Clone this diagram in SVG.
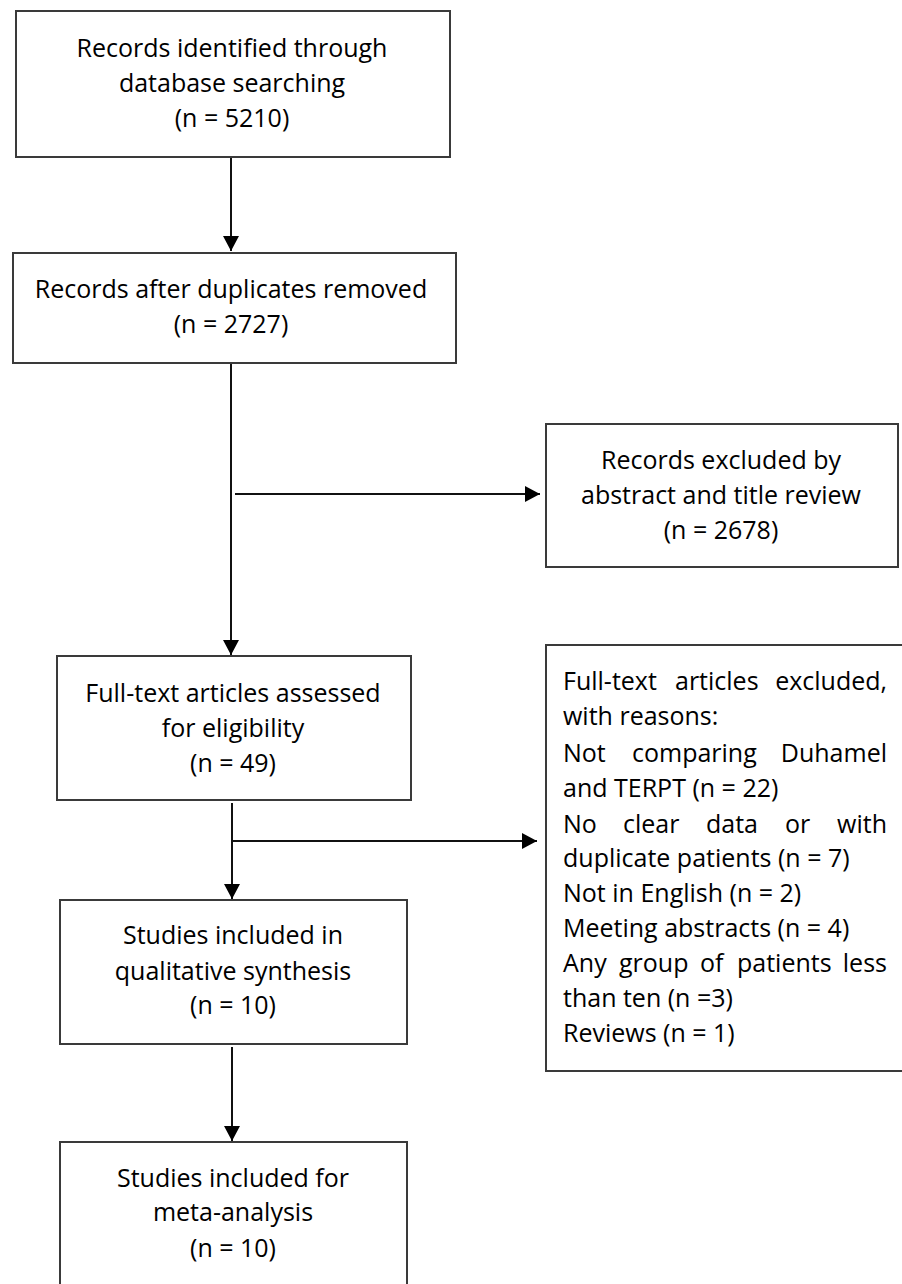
<svg xmlns="http://www.w3.org/2000/svg" width="902" height="1284" viewBox="0 0 902 1284">
<style>
.box{fill:#fff;stroke:#3a3a3a;stroke-width:2}
.t{font-family:"Open Sans","Liberation Sans",sans-serif;font-size:25px;fill:#000}
.c{text-anchor:middle}
.ln{stroke:#111;stroke-width:2;fill:none}
</style>
<defs>
<marker id="ah" markerUnits="userSpaceOnUse" markerWidth="16" markerHeight="16" refX="15" refY="8" orient="auto">
<path d="M0,0 L15,8 L0,16 Z" fill="#000"/>
</marker>
</defs>
<rect width="902" height="1284" fill="#fff"/>
<g id="connectors">
<line class="ln" x1="231" y1="157" x2="231" y2="251" marker-end="url(#ah)"/>
<line class="ln" x1="231" y1="364" x2="231" y2="655" marker-end="url(#ah)"/>
<line class="ln" x1="235" y1="494" x2="540" y2="494" marker-end="url(#ah)"/>
<line class="ln" x1="232" y1="803" x2="232" y2="899" marker-end="url(#ah)"/>
<line class="ln" x1="233" y1="841" x2="537" y2="841" marker-end="url(#ah)"/>
<line class="ln" x1="232" y1="1047" x2="232" y2="1141" marker-end="url(#ah)"/>
</g>
<g id="n1">
<rect class="box" x="16" y="11" width="434" height="146"/>
<text class="t c" x="232" y="57">Records identified through</text>
<text class="t c" x="232" y="92">database searching</text>
<text class="t c" x="232" y="127">(n = 5210)</text>
</g>
<g id="n2">
<rect class="box" x="13" y="253" width="443" height="110"/>
<text class="t c" x="231" y="298">Records after duplicates removed</text>
<text class="t c" x="231" y="333">(n = 2727)</text>
</g>
<g id="n3">
<rect class="box" x="546" y="424" width="352" height="143"/>
<text class="t c" x="721" y="469">Records excluded by</text>
<text class="t c" x="721" y="504">abstract and title review</text>
<text class="t c" x="721" y="539">(n = 2678)</text>
</g>
<g id="n4">
<rect class="box" x="57" y="656" width="354" height="144"/>
<text class="t c" x="233" y="702">Full-text articles assessed</text>
<text class="t c" x="233" y="737">for eligibility</text>
<text class="t c" x="233" y="772">(n = 49)</text>
</g>
<g id="n5">
<rect class="box" x="546" y="645" width="360" height="426"/>
<text class="t" y="690"><tspan x="563">Full-text</tspan><tspan x="675">articles</tspan><tspan x="887" text-anchor="end">excluded,</tspan></text>
<text class="t" x="563" y="725">with reasons:</text>
<text class="t" y="762"><tspan x="563">Not</tspan><tspan x="632">comparing</tspan><tspan x="887" text-anchor="end">Duhamel</tspan></text>
<text class="t" x="563" y="797">and TERPT (n = 22)</text>
<text class="t" y="833"><tspan x="563">No</tspan><tspan x="623">clear</tspan><tspan x="706">data</tspan><tspan x="785">or</tspan><tspan x="887" text-anchor="end">with</tspan></text>
<text class="t" x="563" y="867">duplicate patients (n = 7)</text>
<text class="t" x="563" y="902">Not in English (n = 2)</text>
<text class="t" x="563" y="937">Meeting abstracts (n = 4)</text>
<text class="t" y="972"><tspan x="563">Any</tspan><tspan x="619">group</tspan><tspan x="700">of</tspan><tspan x="737">patients</tspan><tspan x="887" text-anchor="end">less</tspan></text>
<text class="t" x="563" y="1007">than ten (n =3)</text>
<text class="t" x="563" y="1042">Reviews (n = 1)</text>
</g>
<g id="n6">
<rect class="box" x="60" y="900" width="347" height="144"/>
<text class="t c" x="233" y="944">Studies included in</text>
<text class="t c" x="233" y="980">qualitative synthesis</text>
<text class="t c" x="233" y="1014">(n = 10)</text>
</g>
<g id="n7">
<rect class="box" x="60" y="1142" width="347" height="160"/>
<text class="t c" x="233" y="1187">Studies included for</text>
<text class="t c" x="233" y="1221">meta-analysis</text>
<text class="t c" x="233" y="1257">(n = 10)</text>
</g>
</svg>
